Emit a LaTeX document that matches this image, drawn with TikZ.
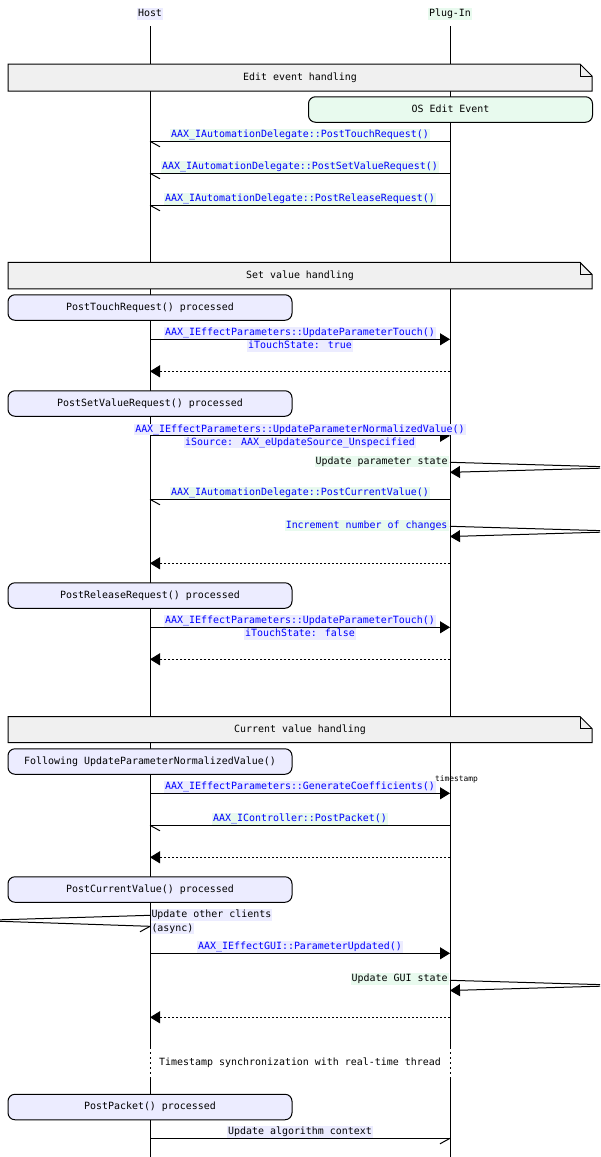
\documentclass[tikz,border=0pt]{standalone}
\usepackage{fontspec}
\setmainfont{DejaVu Sans Mono}
\usetikzlibrary{arrows.meta}
\definecolor{lav}{RGB}{236,236,255}
\definecolor{mint}{RGB}{232,250,238}
\definecolor{notegray}{RGB}{240,240,240}
\definecolor{msgblue}{RGB}{0,0,255}
\begin{document}
\begin{tikzpicture}[x=1pt,y=-1pt,line width=1pt,
  txt/.style={font=\fontsize{9.95}{12}\selectfont, inner xsep=1pt, inner ysep=1pt, text height=7.5pt, text depth=2pt},
  hl/.style={txt, fill=lav},
  pl/.style={txt, fill=mint},
  bl/.style={text=msgblue},
  procbox/.style={txt, draw, rounded corners=7pt, fill=lav, minimum width=284pt, minimum height=25.5pt},
  osbox/.style={procbox, fill=mint},
  notetxt/.style={txt},
  fa/.style={-{Triangle[length=10pt,width=12pt]}},
  ret/.style={fa, dash pattern=on 2pt off 2pt},
  sync/.style={dash pattern=on 2pt off 3pt}
]
\useasboundingbox (0,0) rectangle (600,1157);

% actors
\node[hl] (host) at (150,14) {Host};
\node[pl] (plug) at (450,14) {Plug-In};

% lifelines
\coordinate (hTop) at (150,26);
\coordinate (pTop) at (450,26);
\coordinate (hS1) at (150,1047);
\coordinate (pS1) at (450,1047);
\coordinate (hS2) at (150,1077);
\coordinate (pS2) at (450,1077);
\coordinate (hBot) at (150,1157);
\coordinate (pBot) at (450,1157);
\draw (hTop) -- (hS1);
\draw (pTop) -- (pS1);
\draw[sync] (hS1) -- (hS2);
\draw[sync] (pS1) -- (pS2);
\draw (hS2) -- (hBot);
\draw (pS2) -- (pBot);

% ---------- Note 1 ----------
\draw[fill=notegray] (8,64) -- (580,64) -- (592,76) -- (592,91) -- (8,91) -- cycle;
\draw (580,64) -- (580,76) -- (592,76);
\node[notetxt] (n1) at (300,77.5) {Edit event handling};

\node[osbox] (os) at (450.5,109.5) {OS Edit Event};

% msg 1
\coordinate (h1) at (150,141.3); \coordinate (p1) at (450,141.3);
\draw (p1) -- (h1); \draw (h1) -- ++(10,5.5);
\node[pl,bl] (l1) at (300,135) {AAX\_IAutomationDelegate::PostTouchRequest()};
% msg 2
\coordinate (h2) at (150,173.3); \coordinate (p2) at (450,173.3);
\draw (p2) -- (h2); \draw (h2) -- ++(10,5.5);
\node[pl,bl] (l2) at (300,167) {AAX\_IAutomationDelegate::PostSetValueRequest()};
% msg 3
\coordinate (h3) at (150,205.3); \coordinate (p3) at (450,205.3);
\draw (p3) -- (h3); \draw (h3) -- ++(10,5.5);
\node[pl,bl] (l3) at (300,199) {AAX\_IAutomationDelegate::PostReleaseRequest()};

% ---------- Note 2 ----------
\draw[fill=notegray] (8,262.3) -- (580,262.3) -- (592,274.3) -- (592,288.8) -- (8,288.8) -- cycle;
\draw (580,262.3) -- (580,274.3) -- (592,274.3);
\node[notetxt] (n2) at (300,275.5) {Set value handling};

\node[procbox] (b1) at (150,307.5) {PostTouchRequest() processed};

\coordinate (h4) at (150,339.3); \coordinate (p4) at (450,339.3);
\draw[fa] (h4) -- (p4);
\node[hl,bl] (l4a) at (300,333) {AAX\_IEffectParameters::UpdateParameterTouch()};
\node[hl,bl] (l4b) at (300,346) {iTouchState: true};
\coordinate (h5) at (150,371.3); \coordinate (p5) at (450,371.3);
\draw[ret] (p5) -- (h5);

\node[procbox] (b2) at (150,403.5) {PostSetValueRequest() processed};

\coordinate (h6) at (150,435.8); \coordinate (p6) at (450,435.8);
\draw[fa] (h6) -- (p6);
\node[hl,bl] (l6a) at (300,429.5) {AAX\_IEffectParameters::UpdateParameterNormalizedValue()};
\node[hl,bl] (l6b) at (300,442.3) {iSource: AAX\_eUpdateSource\_Unspecified};

% self loop: update parameter state
\coordinate (s1a) at (450,462.3); \coordinate (s1r) at (600,466.6);
\coordinate (s1s) at (600,468.2); \coordinate (s1b) at (450,472.3);
\draw (s1a) -- (s1r);
\draw[fa] (s1s) -- (s1b);
\node[pl,anchor=east] (l7) at (449,461.5) {Update parameter state};

% msg PostCurrentValue
\coordinate (h8) at (150,499.3); \coordinate (p8) at (450,499.3);
\draw (p8) -- (h8); \draw (h8) -- ++(10,5.5);
\node[pl,bl] (l8) at (300,493) {AAX\_IAutomationDelegate::PostCurrentValue()};

% self loop: increment
\coordinate (s2a) at (450,526.3); \coordinate (s2r) at (600,530.6);
\coordinate (s2s) at (600,532.2); \coordinate (s2b) at (450,536.5);
\draw (s2a) -- (s2r);
\draw[fa] (s2s) -- (s2b);
\node[pl,bl,anchor=east] (l9) at (449,525.5) {Increment number of changes};

\coordinate (h10) at (150,563.3); \coordinate (p10) at (450,563.3);
\draw[ret] (p10) -- (h10);

\node[procbox] (b3) at (150,595.5) {PostReleaseRequest() processed};

\coordinate (h11) at (150,627.3); \coordinate (p11) at (450,627.3);
\draw[fa] (h11) -- (p11);
\node[hl,bl] (l11a) at (300,621) {AAX\_IEffectParameters::UpdateParameterTouch()};
\node[hl,bl] (l11b) at (300,634) {iTouchState: false};
\coordinate (h12) at (150,659.3); \coordinate (p12) at (450,659.3);
\draw[ret] (p12) -- (h12);

% ---------- Note 3 ----------
\draw[fill=notegray] (8,716.5) -- (580,716.5) -- (592,728.5) -- (592,742.5) -- (8,742.5) -- cycle;
\draw (580,716.5) -- (580,728.5) -- (592,728.5);
\node[notetxt] (n3) at (300,729.5) {Current value handling};

\node[procbox] (b4) at (150,761.5) {Following UpdateParameterNormalizedValue()};

\coordinate (h13) at (150,793.3); \coordinate (p13) at (450,793.3);
\draw[fa] (h13) -- (p13);
\node[hl,bl] (l13) at (300,787) {AAX\_IEffectParameters::GenerateCoefficients()};
\node[font=\fontsize{7.9}{9}\selectfont, inner sep=0pt] (ts) at (456.5,779.5) {timestamp};

\coordinate (h14) at (150,825.3); \coordinate (p14) at (450,825.3);
\draw (p14) -- (h14); \draw (h14) -- ++(10,5.5);
\node[pl,bl] (l14) at (300,819) {AAX\_IController::PostPacket()};

\coordinate (h15) at (150,857.3); \coordinate (p15) at (450,857.3);
\draw[ret] (p15) -- (h15);

\node[procbox] (b5) at (150,889.5) {PostCurrentValue() processed};

% self loop left: update other clients
\coordinate (s3a) at (150,915.3); \coordinate (s3l) at (0,919.8);
\coordinate (s3s) at (0,921.3); \coordinate (s3b) at (150,926.3);
\draw (s3a) -- (s3l);
\draw (s3s) -- (s3b); \draw (s3b) -- ++(-10,5.5);
\node[hl,anchor=west,inner xsep=0.5pt] (l16a) at (150.5,915) {Update other clients};
\node[hl,anchor=west,inner xsep=0.5pt] (l16b) at (150.5,928.3) {(async)};

\coordinate (h17) at (150,953.3); \coordinate (p17) at (450,953.3);
\draw[fa] (h17) -- (p17);
\node[hl,bl] (l17) at (300,947) {AAX\_IEffectGUI::ParameterUpdated()};

% self loop: update GUI state
\coordinate (s4a) at (450,980.3); \coordinate (s4r) at (600,984.6);
\coordinate (s4s) at (600,986.2); \coordinate (s4b) at (450,990.5);
\draw (s4a) -- (s4r);
\draw[fa] (s4s) -- (s4b);
\node[pl,anchor=east] (l18) at (449,979) {Update GUI state};

\coordinate (h19) at (150,1017.3); \coordinate (p19) at (450,1017.3);
\draw[ret] (p19) -- (h19);

\node[txt, fill=white] (sync) at (300,1062.3) {Timestamp synchronization with real-time thread};

\node[procbox] (b6) at (150,1107) {PostPacket() processed};

\coordinate (h20) at (150,1138.3); \coordinate (p20) at (450,1138.3);
\draw (h20) -- (p20); \draw (p20) -- ++(-10,5.5);
\node[hl] (l20) at (300,1132) {Update algorithm context};
\end{tikzpicture}
\end{document}
